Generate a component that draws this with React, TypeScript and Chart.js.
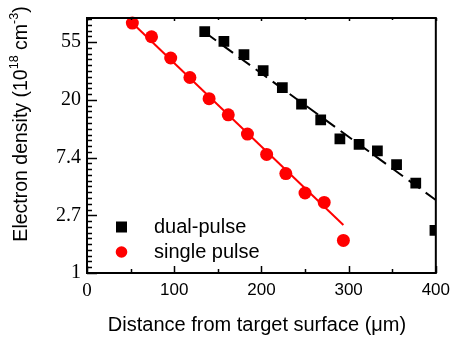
import React, { useEffect, useRef } from 'react';
import { Chart, registerables } from 'chart.js';

Chart.register(...registerables);

// ---- data ----
const dualX = [135, 157, 180, 202, 224, 246, 268, 290, 312, 333, 355, 377, 399];
const dualY = [65.5, 55.3, 44, 33.3, 24.8, 18.7, 14.2, 10.2, 9.3, 8.3, 6.55, 4.75, 2.09];
const singleX = [52, 74, 96, 118, 140, 162, 184, 206, 228, 250, 272, 294];
const singleY = [76, 60, 41.5, 29.6, 20.5, 15.5, 11.1, 7.8, 5.6, 4.0, 3.4, 1.76];
const dualFitX = [135, 400];
const dualFitY = [64.8, 3.54];
const singleFitX = [52, 294];
const singleFitY = [76, 2.3];

const xTickValues = [0, 100, 200, 300, 400];
const xMinorTickValues = [50, 150, 250, 350];
const yTickValues = [1, 2.718, 7.389, 20.09, 54.6];
const yTickLabels = ['1', '2.7', '7.4', '20', '55'];
const legendLabels = ['dual-pulse', 'single pulse'];
const xTitle = 'Distance from target surface (\u03bcm)';
const yTitleParts = ['Electron density (10', '18', ' cm', '-3', ')'];

const X_MIN = 0;
const X_MAX = 400;
const Y_MIN = 1;
const Y_MAX = 83;

const RED = '#ff0000';
const SANS = "'Liberation Sans', Arial, sans-serif";
const SERIF = "'Liberation Serif', 'Times New Roman', serif";

const toPts = (xs: number[], ys: number[]) => xs.map((x, i) => ({ x, y: ys[i] }));

export default function App() {
  const ref = useRef<HTMLCanvasElement>(null);

  useEffect(() => {
    const canvas = ref.current;
    if (!canvas) return;

    const deco = {
      id: 'deco',
      afterDatasetsDraw(chart: any) {
        const { ctx, chartArea } = chart;
        const { left, right, top, bottom } = chartArea;
        const xs = chart.scales.x;
        const ys = chart.scales.y;
        ctx.save();
        ctx.strokeStyle = '#000';
        ctx.lineWidth = 1.5;
        const drawX = (v: number, len: number, topLen: number) => {
          const px = Math.round(xs.getPixelForValue(v)) + 0.5;
          ctx.beginPath();
          ctx.moveTo(px, bottom);
          ctx.lineTo(px, bottom - len);
          ctx.moveTo(px, top);
          ctx.lineTo(px, top + topLen);
          ctx.stroke();
        };
        xTickValues.forEach((v) => drawX(v, 7, 3));
        xMinorTickValues.forEach((v) => drawX(v, 4, 2));
        for (let k = 0; k < 5; k++) {
          for (let j = 0; j < 10; j++) {
            const v = j === 0 ? yTickValues[k] : yTickValues[k] * Math.exp(j / 10);
            if (v > Y_MAX) continue;
            const py = Math.round(ys.getPixelForValue(v)) + 0.5;
            ctx.beginPath();
            ctx.moveTo(left, py);
            ctx.lineTo(left + (j === 0 ? 10 : 5), py);
            ctx.stroke();
          }
        }
        ctx.lineWidth = 2;
        ctx.strokeRect(left, top, right - left, bottom - top);
        ctx.restore();
      },
      afterDraw(chart: any) {
        const { ctx, chartArea } = chart;
        const { left, bottom } = chartArea;
        ctx.save();
        ctx.fillStyle = '#000';
        // legend
        const lx = left + 34.5;
        const ly1 = bottom - 46;
        const ly2 = bottom - 21;
        ctx.fillRect(lx - 5.5, ly1 - 5.5, 11, 11);
        ctx.fillStyle = RED;
        ctx.beginPath();
        ctx.arc(lx, ly2, 5.8, 0, Math.PI * 2);
        ctx.fill();
        ctx.fillStyle = '#000';
        ctx.font = `20px ${SANS}`;
        ctx.textBaseline = 'middle';
        ctx.textAlign = 'left';
        ctx.fillText(legendLabels[0], left + 67, ly1);
        ctx.fillText(legendLabels[1], left + 67, ly2);
        // x title
        ctx.textAlign = 'center';
        ctx.fillText(xTitle, 257, 325);
        // y title with superscripts
        ctx.translate(22, 124);
        ctx.rotate(-Math.PI / 2);
        const big = `19.5px ${SANS}`;
        const small = `12.5px ${SANS}`;
        const fonts = [big, small, big, small, big];
        const widths = yTitleParts.map((t, i) => {
          ctx.font = fonts[i];
          return ctx.measureText(t).width;
        });
        const total = widths.reduce((a, b) => a + b, 0);
        let x = -total / 2;
        ctx.textAlign = 'left';
        yTitleParts.forEach((t, i) => {
          ctx.font = fonts[i];
          ctx.fillText(t, x, i % 2 === 1 ? -7 : 0);
          x += widths[i];
        });
        ctx.restore();
      },
    };

    const chart = new Chart(canvas, {
      type: 'scatter',
      data: {
        datasets: [
          {
            label: legendLabels[0],
            data: toPts(dualX, dualY),
            pointStyle: 'rect',
            pointRadius: 7.6,
            pointBackgroundColor: '#000',
            pointBorderWidth: 0,
            showLine: false,
            order: 0,
            clip: { left: 10, top: 10, right: 0, bottom: 10 },
          } as any,
          {
            label: legendLabels[1],
            data: toPts(singleX, singleY),
            pointStyle: 'circle',
            pointRadius: 6.5,
            pointBackgroundColor: RED,
            pointBorderWidth: 0,
            showLine: false,
            order: 0,
            clip: { left: 10, top: 10, right: 0, bottom: 10 },
          } as any,
          {
            label: 'dual fit',
            data: toPts(dualFitX, dualFitY),
            showLine: true,
            borderColor: '#000',
            borderWidth: 2,
            borderDash: [14, 7],
            pointRadius: 0,
            order: 1,
            clip: 0,
          } as any,
          {
            label: 'single fit',
            data: toPts(singleFitX, singleFitY),
            showLine: true,
            borderColor: RED,
            borderWidth: 2,
            pointRadius: 0,
            order: 1,
            clip: 0,
          } as any,
        ],
      },
      options: {
        animation: false,
        responsive: false,
        devicePixelRatio: 1,
        layout: { padding: { left: 0, top: 15, right: 16, bottom: 0 } },
        plugins: {
          legend: { display: false },
          tooltip: { enabled: false },
          title: { display: false },
        },
        scales: {
          x: {
            type: 'linear',
            min: X_MIN,
            max: X_MAX,
            afterBuildTicks: (s: any) => {
              s.ticks = xTickValues.map((v) => ({ value: v }));
            },
            afterFit: (s: any) => {
              s.height = 66;
            },
            grid: { display: false, drawTicks: false },
            border: { display: false },
            ticks: {
              padding: 7,
              color: '#000',
              font: (c: any) =>
                c.index === 0 ? { family: SERIF, size: 19 } : { family: SANS, size: 17 },
              maxRotation: 0,
              autoSkip: false,
            },
          },
          y: {
            type: 'logarithmic',
            min: Y_MIN,
            max: Y_MAX,
            afterBuildTicks: (s: any) => {
              s.ticks = yTickValues.map((v) => ({ value: v }));
            },
            afterFit: (s: any) => {
              s.width = 87;
            },
            grid: { display: false, drawTicks: false },
            border: { display: false },
            ticks: {
              padding: 6,
              color: '#000',
              font: { family: SERIF, size: 20 },
              autoSkip: false,
              callback: (_v: any, i: number) => yTickLabels[i],
            },
          },
        },
      } as any,
      plugins: [deco],
    });

    return () => chart.destroy();
  }, []);

  return (
    <div style={{ position: 'fixed', left: 0, top: 0, width: 457, height: 339, background: '#fff' }}>
      <canvas ref={ref} width={457} height={339} style={{ display: 'block', width: 457, height: 339 }} />
    </div>
  );
}
